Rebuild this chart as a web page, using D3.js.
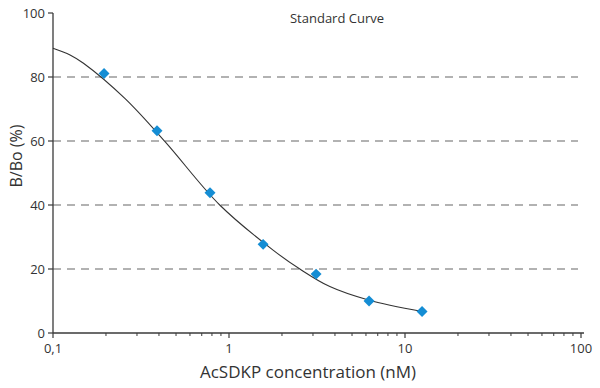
<!DOCTYPE html>
<html>
<head>
<meta charset="utf-8">
<script src="https://cdn.jsdelivr.net/npm/d3@7"></script>
<style>
  html, body { margin: 0; padding: 0; background: #fff; }
  svg { display: block; font-family: "Open Sans", "Noto Sans", sans-serif; }
</style>
</head>
<body>
<svg id="chart" width="600" height="388"></svg>
<script>
// ---- data ----
const concentrations = [0.195, 0.39, 0.78, 1.5625, 3.125, 6.25, 12.5];   // nM
const bbo = [81.1, 63.2, 43.8, 27.7, 18.4, 10.0, 6.7];                     // B/Bo (%)
// fitted standard curve
const curveX = [0.1, 0.125, 0.149, 0.256, 0.433, 0.886, 1.78, 2.54, 3.74, 6.2, 12.5];
const curveY = [89, 86.9, 84.3, 73.3, 59.8, 40, 25.9, 19.9, 14.5, 10.3, 6.7];
const xMajorTicks = [0.1, 1, 10, 100];
const xTickLabels = ["0,1", "1", "10", "100"];
const yTicks = [0, 20, 40, 60, 80, 100];
const yGrid = [20, 40, 60, 80];
const chartTitle = "Standard Curve";
const xTitle = "AcSDKP concentration (nM)";
const yTitle = "B/Bo (%)";

const svg = d3.select("#chart");
const x = d3.scaleLog().domain([0.1, 100]).range([53, 581]);
const y = d3.scaleLinear().domain([0, 100]).range([333, 13]);
const axisColor = "#3a3a3a";

// grid
svg.append("g").selectAll("line").data(yGrid).join("line")
  .attr("x1", 53).attr("x2", 578)
  .attr("y1", d => y(d)).attr("y2", d => y(d))
  .attr("stroke", "#666").attr("stroke-width", 1.2)
  .attr("stroke-dasharray", "8,6");

// minor x ticks
const minor = [];
[0.1, 1, 10].forEach(dec => { for (let k = 2; k <= 9; k++) minor.push(dec * k); });

const xAxis = svg.append("g").attr("transform", `translate(0,${y(0)})`);
xAxis.append("line").attr("x1", 53).attr("x2", 584).attr("stroke", axisColor).attr("stroke-width", 1.3);
xAxis.selectAll("line.minor").data(minor).join("line").attr("class", "minor")
  .attr("x1", d => x(d)).attr("x2", d => x(d)).attr("y1", 0).attr("y2", 3)
  .attr("stroke", axisColor).attr("stroke-width", 1);
xAxis.selectAll("line.major").data(xMajorTicks).join("line").attr("class", "major")
  .attr("x1", d => x(d)).attr("x2", d => x(d)).attr("y1", 0).attr("y2", 5)
  .attr("stroke", axisColor).attr("stroke-width", 1.2);
xAxis.selectAll("text").data(xMajorTicks).join("text")
  .attr("x", d => x(d)).attr("y", 20)
  .attr("text-anchor", "middle").attr("font-size", 13).attr("fill", "#333")
  .text((d, i) => xTickLabels[i]);

const yAxis = svg.append("g").attr("transform", `translate(53,0)`);
yAxis.append("line").attr("y1", y(0)).attr("y2", y(100)).attr("stroke", axisColor).attr("stroke-width", 1.3);
yAxis.selectAll("line.t").data(yTicks).join("line").attr("class", "t")
  .attr("x1", -5).attr("x2", 0).attr("y1", d => y(d)).attr("y2", d => y(d))
  .attr("stroke", axisColor).attr("stroke-width", 1.2);
yAxis.selectAll("text").data(yTicks).join("text")
  .attr("x", -8).attr("y", d => y(d)).attr("dy", "0.35em")
  .attr("text-anchor", "end").attr("font-size", 13).attr("fill", "#333")
  .text(d => d);

// curve
const curveData = curveX.map((c, i) => [c, curveY[i]]);
svg.append("path").datum(curveData)
  .attr("d", d3.line().x(d => x(d[0])).y(d => y(d[1])).curve(d3.curveCatmullRom.alpha(0.5)))
  .attr("fill", "none").attr("stroke", "#333").attr("stroke-width", 1.1);

// points
const sym = d3.symbol().type(d3.symbolSquare).size(60);
svg.append("g").selectAll("path").data(concentrations.map((c, i) => [c, bbo[i]])).join("path")
  .attr("d", sym)
  .attr("transform", d => `translate(${x(d[0])},${y(d[1])}) rotate(45)`)
  .attr("fill", "#148dd4");

// titles
svg.append("text").attr("x", 337).attr("y", 23).attr("text-anchor", "middle")
  .attr("font-size", 13).attr("fill", "#333").text(chartTitle);
svg.append("text").attr("x", 308).attr("y", 378).attr("text-anchor", "middle")
  .attr("font-size", 17).attr("fill", "#333").text(xTitle);
svg.append("text").attr("transform", "translate(22,156) rotate(-90)").attr("text-anchor", "middle")
  .attr("font-size", 16).attr("fill", "#333").text(yTitle);
</script>
</body>
</html>
